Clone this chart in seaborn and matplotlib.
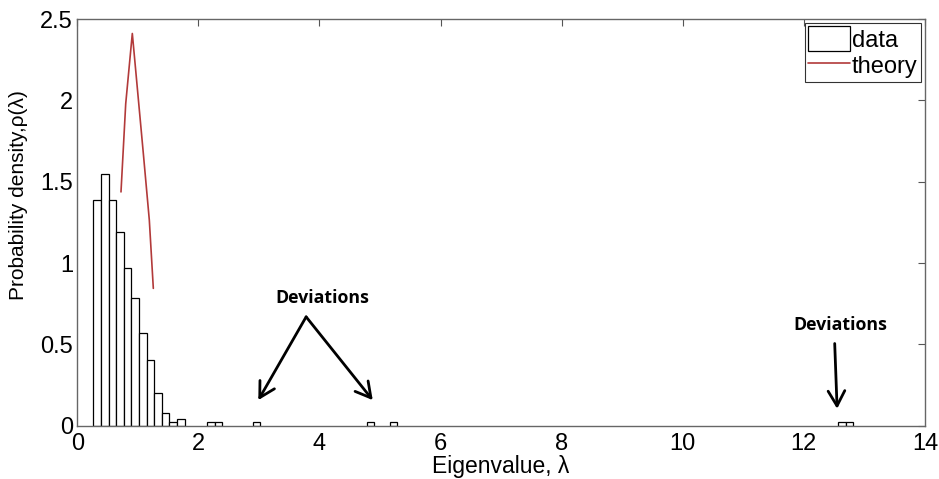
import numpy as np
import pandas as pd
import matplotlib
matplotlib.use("Agg")
import matplotlib.pyplot as plt
import seaborn as sns
from matplotlib.patches import Patch
from matplotlib.lines import Line2D

# ---- data ----
hist_range = [0.265, 12.815]   # histogram range (min..max eigenvalue)
hist_nbins = 100
# non-empty bins: bin index and probability density
bin_index = [0, 1, 2, 3, 4, 5, 6, 7, 8, 9, 10, 11, 15, 16, 21, 36, 39, 98, 99]
bin_density = [1.39, 1.55, 1.39, 1.19, 0.97, 0.785, 0.57, 0.405, 0.20, 0.08,
               0.022, 0.045, 0.022, 0.022, 0.022, 0.022, 0.022, 0.022, 0.022]
theory_x = [0.722, 0.80, 0.909, 1.091, 1.19, 1.256]
theory_y = [1.438, 1.98, 2.412, 1.674, 1.264, 0.845]
x_ticks = [0, 2, 4, 6, 8, 10, 12, 14]
y_ticks = [0, 0.5, 1, 1.5, 2, 2.5]
y_tick_labels = ["0", "0.5", "1", "1.5", "2", "2.5"]

sns.set_theme(style="white")
plt.rcParams["font.family"] = ["Liberation Sans", "DejaVu Sans"]
plt.rcParams["text.color"] = "black"
plt.rcParams["axes.labelcolor"] = "black"
plt.rcParams["xtick.color"] = "black"
plt.rcParams["ytick.color"] = "black"

fig = plt.figure(figsize=(9.39, 4.79), dpi=100)
ax = fig.add_axes([0.0823, 0.111, 0.9027, 0.849])

width = (hist_range[1] - hist_range[0]) / hist_nbins
centers = [hist_range[0] + (i + 0.5) * width for i in bin_index]
df = pd.DataFrame({"eig": centers, "density": bin_density})

sns.histplot(data=df, x="eig", weights="density", bins=hist_nbins,
             binrange=tuple(hist_range), stat="count",
             element="bars", fill=True, color="white", edgecolor="black",
             linewidth=0.9, alpha=1, ax=ax)
for p in list(ax.patches):
    if p.get_height() <= 0:
        p.remove()

tdf = pd.DataFrame({"x": theory_x, "y": theory_y})
sns.lineplot(data=tdf, x="x", y="y", color="#b23a3a", linewidth=1.2, ax=ax,
             sort=False)

ax.set_xlim(0, 14)
ax.set_ylim(0, 2.5)
ax.set_xticks(x_ticks)
ax.set_yticks(y_ticks)
ax.set_yticklabels(y_tick_labels)
ax.tick_params(axis="both", direction="in", length=5, width=0.8, color="#555555",
               labelcolor="black", labelsize=17, top=True, right=True)
ax.tick_params(axis="x", pad=5)
ax.tick_params(axis="y", pad=3)
for s in ax.spines.values():
    s.set_color("#666666")
    s.set_linewidth(1.0)

ax.set_xlabel("Eigenvalue, λ", fontsize=16.5, labelpad=0)
ax.set_ylabel("Probability density,ρ(λ)", fontsize=15)
ax.yaxis.set_label_coords(-0.058, 0.567)

handles = [Patch(facecolor="white", edgecolor="black", linewidth=0.9),
           Line2D([0], [0], color="#b23a3a", linewidth=1.2)]
leg = ax.legend(handles, ["data", "theory"], loc="upper right", fontsize=17,
                frameon=True, fancybox=False, edgecolor="black",
                handlelength=1.75, handleheight=1.25, handletextpad=0.1,
                borderpad=0.15, labelspacing=0.05, borderaxespad=0.15)
leg.get_frame().set_linewidth(0.8)

dev_font = dict(family=["Open Sans", "DejaVu Sans"], fontweight="bold",
                fontsize=12.8, ha="center", va="center")
ax.text(4.04, 0.785, "Deviations", **dev_font)
ax.text(12.6, 0.62, "Deviations", **dev_font)

arrow = dict(arrowstyle="->,head_length=0.9,head_width=0.5", color="black",
             lw=2.0, shrinkA=0, shrinkB=0)
ax.annotate("", xy=(2.99, 0.158), xytext=(3.78, 0.67), arrowprops=arrow)
ax.annotate("", xy=(4.88, 0.158), xytext=(3.78, 0.67), arrowprops=arrow)
ax.annotate("", xy=(12.55, 0.105), xytext=(12.51, 0.506), arrowprops=arrow)

fig.savefig("out.png", dpi=100)
